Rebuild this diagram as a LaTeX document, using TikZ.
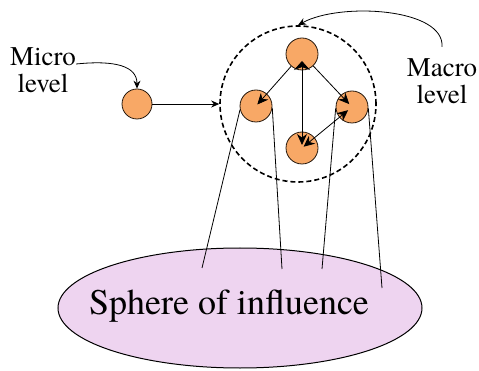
\documentclass[tikz,border=0pt]{standalone}
\usepackage{fontspec}
\newfontfamily\serifface{texgyretermes-regular.otf}
\usetikzlibrary{arrows.meta,shapes.geometric}
\definecolor{nodeorange}{RGB}{248,168,102}
\definecolor{spherepink}{RGB}{238,212,240}
\begin{document}
\begin{tikzpicture}[x=1pt,y=-1pt,
  agent/.style={circle,draw=black!80!brown,line width=0.8pt,fill=nodeorange,minimum size=32pt,inner sep=0pt},
  lbl/.style={font=\serifface\fontsize{27}{27}\selectfont,align=center,inner sep=0pt},
  arr/.style={-{Stealth[length=11pt,width=10pt]},line width=0.8pt},
  arrsmall/.style={-{Stealth[length=8pt,width=7pt]},line width=0.8pt},
  link/.style={line width=0.8pt}]
\useasboundingbox (0,0) rectangle (479,371);
% sphere of influence
\node[ellipse,draw,line width=1pt,fill=spherepink,minimum width=364pt,minimum height=120pt,inner sep=0pt] (sphere) at (240,308) {};
\node[font=\serifface\fontsize{36}{36}\selectfont,inner sep=0pt] (spheretext) at (229,306) {Sphere of influence};
% macro circle
\node[circle,draw,dashed,dash pattern=on 5pt off 3pt,line width=1.6pt,minimum size=156pt,inner sep=0pt] (macro) at (298,104) {};
% agents
\node[agent] (top) at (302,54) {};
\node[agent] (left) at (256,106) {};
\node[agent] (right) at (352,107) {};
\node[agent] (bot) at (302,148) {};
\node[agent,minimum size=30pt] (micro) at (137,104) {};
% arrows among agents
\draw[arr,shorten >=2pt] (top) -- (left.center);
\draw[arr,shorten >=4pt] (top) -- (right.center);
\draw[arr,{Stealth[length=9pt,width=16pt]}-{Stealth[length=11pt,width=10pt]},shorten >=3pt,shorten <=7pt] (top.center) -- (bot.center);
\draw[arr,{Stealth[length=11pt,width=10pt]}-{Stealth[length=11pt,width=10pt]},shorten >=2pt,shorten <=5pt] (right.center) -- (bot.center);
% micro to macro
\draw[arrsmall] (micro) -- (macro.west);
% links to sphere
\coordinate (s1) at (202,268);
\coordinate (s2) at (282,269);
\coordinate (s3) at (322,269);
\coordinate (s4) at (382,288);
\draw[link] (left.193) -- (s1);
\draw[link] (left.353) -- (s2);
\draw[link] (right.185) -- (s3);
\draw[link] (right.355) -- (s4);
% labels
\node[lbl] (microlbl) at (43,70) {Micro\\level};
\node[lbl] (macrolbl) at (442,81) {Macro\\level};
\draw[arrsmall] (microlbl.east |- 0,64) .. controls (115,60) and (137,66) .. (micro.north);
\draw[arrsmall] (442,47) .. controls (445,8) and (340,2) .. (macro.north);
\end{tikzpicture}
\end{document}
